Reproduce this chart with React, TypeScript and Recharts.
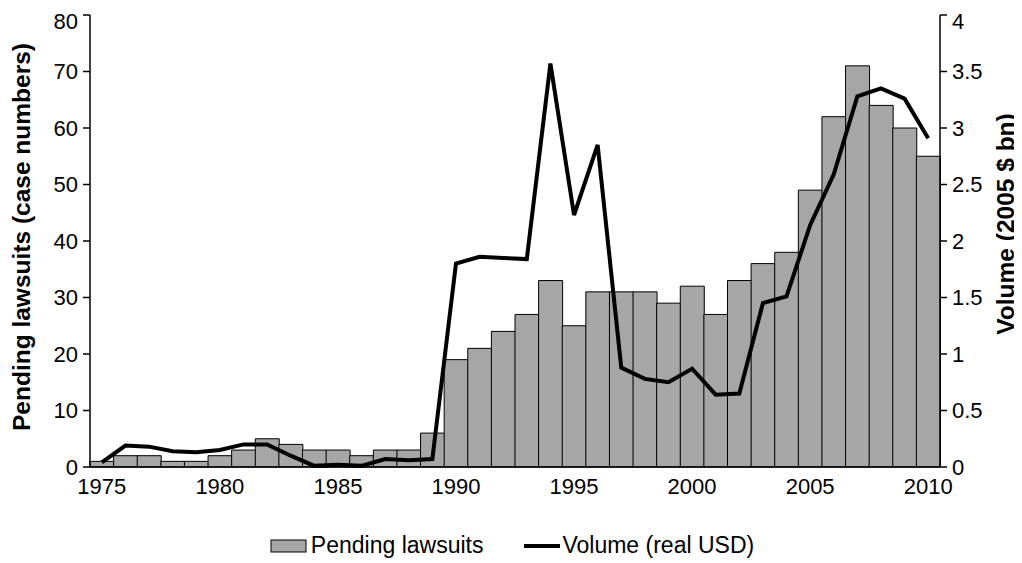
import React from 'react';
import { ComposedChart, Bar, Line, XAxis, YAxis, Legend } from 'recharts';

const years = [
  '1975', '1976', '1977', '1978', '1979', '1980', '1981', '1982', '1983', '1984',
  '1985', '1986', '1987', '1988', '1989', '1990', '1991', '1992', '1993', '1994',
  '1995', '1996', '1997', '1998', '1999', '2000', '2001', '2002', '2003', '2004',
  '2005', '2006', '2007', '2008', '2009', '2010',
];

const pendingLawsuits = [
  1, 2, 2, 1, 1, 2, 3, 5, 4, 3,
  3, 2, 3, 3, 6, 19, 21, 24, 27, 33,
  25, 31, 31, 31, 29, 32, 27, 33, 36, 38,
  49, 62, 71, 64, 60, 55,
];

const volumeReal = [
  0.04, 0.19, 0.18, 0.14, 0.13, 0.15, 0.2, 0.2, 0.1, 0.01,
  0.02, 0.01, 0.07, 0.06, 0.07, 1.8, 1.86, 1.85, 1.84, 3.57,
  2.23, 2.85, 0.88, 0.78, 0.75, 0.87, 0.64, 0.65, 1.45, 1.51,
  2.14, 2.59, 3.28, 3.35, 3.26, 2.91,
];

const leftTicks = [0, 10, 20, 30, 40, 50, 60, 70, 80];
const rightTicks = [0, 0.5, 1, 1.5, 2, 2.5, 3, 3.5, 4];

const data = years.map((year, i) => ({
  year,
  pending: pendingLawsuits[i],
  volume: volumeReal[i],
}));

const font = '"Liberation Sans", Arial, sans-serif';
const tickStyle = { fill: '#000', fontSize: 22, fontFamily: font };
const titleStyle = { fontFamily: font, fontSize: 24.5, fontWeight: 'bold', fill: '#000' };

// axis titles, placed in svg coordinates (svg sits at the 8px body margin)
const LeftTitle = () => (
  <text x={22} y={229} transform="rotate(-90, 22, 229)" textAnchor="middle" style={titleStyle}>
    Pending lawsuits (case numbers)
  </text>
);

const RightTitle = () => (
  <text x={1006} y={216} transform="rotate(-90, 1006, 216)" textAnchor="middle" style={titleStyle}>
    Volume (2005 $ bn)
  </text>
);

const LegendContent = () => (
  <div style={{ display: 'flex', justifyContent: 'center', alignItems: 'center', fontFamily: font, fontSize: 23, color: '#000', paddingTop: 3, paddingRight: 6 }}>
    <svg width={38} height={14} style={{ marginRight: 3 }}>
      <rect x={1} y={1} width={35} height={12} fill="#A6A6A6" stroke="#000" strokeWidth={1} />
    </svg>
    <span>Pending lawsuits</span>
    <svg width={38} height={14} style={{ marginLeft: 40, marginRight: 1 }}>
      <line x1={1} y1={7} x2={37} y2={7} stroke="#000" strokeWidth={4} />
    </svg>
    <span>Volume (real USD)</span>
  </div>
);

export default function App() {
  return (
    <ComposedChart
      width={1014}
      height={555}
      data={data}
      barCategoryGap={0}
      barGap={0}
      margin={{ top: 7, right: 0, bottom: 0, left: 0 }}
    >
      <XAxis
        dataKey="year"
        interval={4}
        tickLine={false}
        tickMargin={5}
        axisLine={{ stroke: '#000', strokeWidth: 1.5 }}
        tick={tickStyle}
        height={62}
      />
      <YAxis
        yAxisId="left"
        domain={[0, 80]}
        ticks={leftTicks}
        width={82}
        tickSize={7}
        tickMargin={5}
        axisLine={{ stroke: '#000', strokeWidth: 1.5 }}
        tickLine={{ stroke: '#000', strokeWidth: 1.5 }}
        tick={tickStyle}
        label={LeftTitle}
      />
      <YAxis
        yAxisId="right"
        orientation="right"
        domain={[0, 4]}
        ticks={rightTicks}
        width={82}
        tickSize={7}
        tickMargin={5}
        axisLine={{ stroke: '#000', strokeWidth: 1.5 }}
        tickLine={{ stroke: '#000', strokeWidth: 1.5 }}
        tick={tickStyle}
        label={RightTitle}
      />
      <Legend verticalAlign="bottom" height={34} content={<LegendContent />} />
      <Bar
        yAxisId="left"
        dataKey="pending"
        name="Pending lawsuits"
        fill="#A6A6A6"
        stroke="#000"
        strokeWidth={1}
        isAnimationActive={false}
      />
      <Line
        yAxisId="right"
        dataKey="volume"
        name="Volume (real USD)"
        type="linear"
        stroke="#000"
        strokeWidth={4}
        dot={false}
        isAnimationActive={false}
      />
    </ComposedChart>
  );
}
